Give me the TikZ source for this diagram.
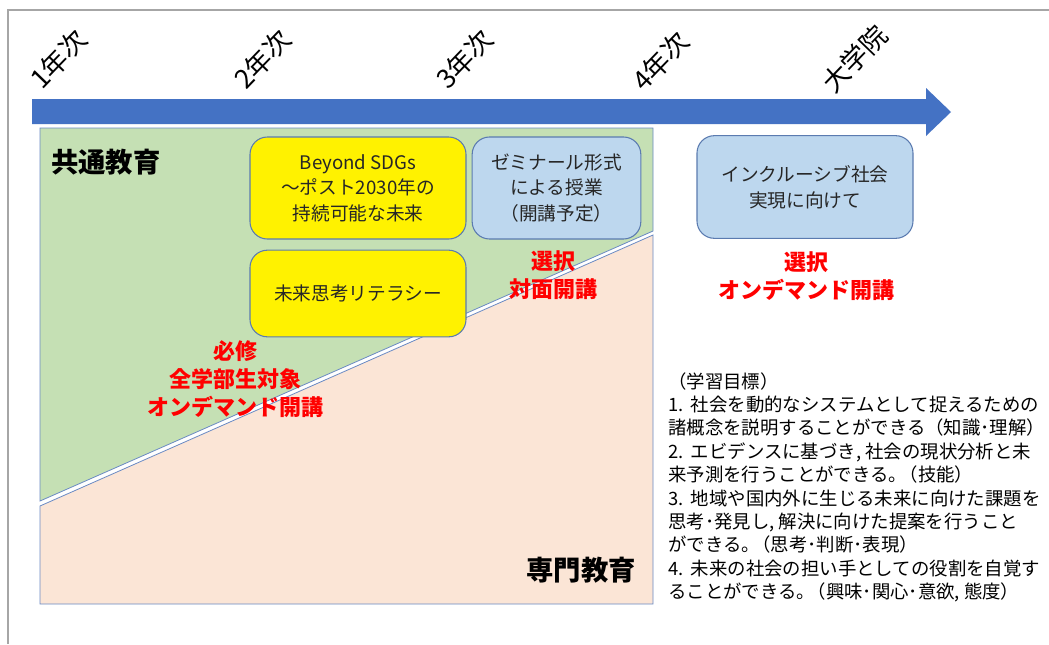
\documentclass[tikz,border=0pt]{standalone}
\usepackage{fontspec}
\setmainfont{Noto Sans CJK JP}
\newfontfamily\jp{Noto Sans CJK JP}
\definecolor{framegray}{HTML}{A6A6A6}
\definecolor{arrowblue}{HTML}{4472C4}
\definecolor{greenfill}{HTML}{C5E0B4}
\definecolor{pinkfill}{HTML}{FBE5D6}
\definecolor{edgeblue}{HTML}{6A8AC4}
\definecolor{boxedge}{HTML}{5B7BB0}
\definecolor{lightblue}{HTML}{BDD7EE}
\definecolor{textdark}{HTML}{262626}
\tikzset{
  yearlabel/.style={font=\jp\fontsize{20pt}{20pt}\selectfont, rotate=46, anchor=base west, inner sep=0pt},
  coursebox/.style={draw=boxedge, line width=0.8pt, rounded corners=13pt, align=center,
    text=textdark, font=\jp\fontsize{14pt}{19.2pt}\selectfont, inner sep=0pt},
  yellowbox/.style={coursebox, fill=yellow},
  bluebox/.style={coursebox, fill=lightblue},
  redtext/.style={text=red, align=center, font=\jp\bfseries\fontsize{16.5pt}{21pt}\selectfont, inner sep=0pt},
  areatitle/.style={text=black, font=\jp\bfseries\fontsize{20.5pt}{22pt}\selectfont, inner sep=0pt},
  goaltext/.style={text=black, align=left, font=\jp\fontsize{13.8pt}{17.55pt}\selectfont, inner sep=0pt, anchor=north west}
}
\begin{document}
\begin{tikzpicture}[x=0.75pt, y=-0.75pt]
\useasboundingbox (0,0) rectangle (1049,644);
\fill[white] (0,0) rectangle (1049,644);
% frame
\draw[framegray, line width=1.6pt] (8,644) -- (8,10) -- (1049,10);
% timeline arrow
\fill[arrowblue] (32,99) -- (926,99) -- (926,88) -- (951,112) -- (926,136) -- (926,124) -- (32,124) -- cycle;
% year labels
\node[yearlabel] (y1) at (42,91) {1年次};
\node[yearlabel] (y2) at (246,91) {2年次};
\node[yearlabel] (y3) at (448,91) {3年次};
\node[yearlabel] (y4) at (644,93) {4年次};
\node[yearlabel] (y5) at (834,95) {大学院};
% areas
\filldraw[fill=greenfill, draw=edgeblue, line width=0.6pt] (40,128) -- (653,128) -- (653,231) -- (40,501) -- cycle;
\filldraw[fill=pinkfill, draw=edgeblue, line width=0.6pt] (40,506) -- (653,235) -- (653,604) -- (40,604) -- cycle;
\node[areatitle, anchor=west] (common) at (51,162) {共通教育};
\node[areatitle] (special) at (581,570) {専門教育};
% course boxes
\node[yellowbox, minimum width=162pt, minimum height=76.5pt] (sdgs) at (358,188) {Beyond SDGs\\～ポスト2030年の\\持続可能な未来};
\node[yellowbox, minimum width=162pt, minimum height=65pt] (lit) at (358,293.5) {未来思考リテラシー};
\node[bluebox, minimum width=126.5pt, minimum height=76.5pt] (semi) at (556.5,188) {ゼミナール形式\\による授業\\（開講予定）};
\node[bluebox, minimum width=162pt, minimum height=77pt] (incl) at (805,187) {インクルーシブ社会\\実現に向けて};
% red labels
\node[redtext] (sel1) at (553,275) {選択\\対面開講};
\node[redtext] (sel2) at (806,276) {選択\\オンデマンド開講};
\node[redtext] (req) at (235,379) {必修\\全学部生対象\\オンデマンド開講};
% goals
\node[goaltext] (goals) at (668,372) {（学習目標）\\
1.\hspace{0.4em}社会を動的なシステムとして捉えるための\\
諸概念を説明することができる（知識･理解）\\
2.\hspace{0.4em}エビデンスに基づき, 社会の現状分析と未\\
来予測を行うことができる。\kern-0.4em（技能）\\
3.\hspace{0.4em}地域や国内外に生じる未来に向けた課題を\\
思考･発見し, 解決に向けた提案を行うこと\\
ができる。\kern-0.4em（思考･判断･表現）\\
4.\hspace{0.4em}未来の社会の担い手としての役割を自覚す\\
ることができる。\kern-0.4em（興味･関心･意欲, 態度）};
\end{tikzpicture}
\end{document}
